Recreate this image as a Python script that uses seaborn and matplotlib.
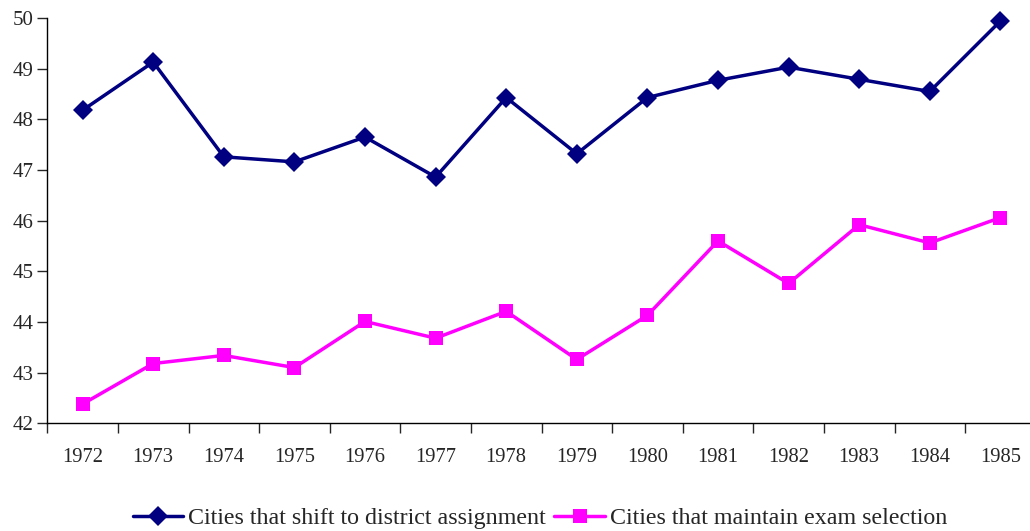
import pandas as pd
import matplotlib.pyplot as plt
import seaborn as sns
from matplotlib.ticker import FixedLocator

years = [str(y) for y in range(1972, 1986)]
district = [48.18, 49.13, 47.26, 47.16, 47.65, 46.86, 48.43,
            47.32, 48.43, 48.77, 49.03, 48.79, 48.55, 49.94]
exam = [42.38, 43.18, 43.34, 43.10, 44.01, 43.68, 44.21,
        43.26, 44.13, 45.60, 44.76, 45.92, 45.56, 46.06]
series_names = ["Cities that shift to district assignment",
                "Cities that maintain exam selection"]


def build_frame():
    df = pd.DataFrame({
        "Year": years * 2,
        "Value": district + exam,
        "Series": [series_names[0]] * len(years) + [series_names[1]] * len(years),
    })
    return df


def plot_chart(df):
    sns.set_style("white")
    plt.rcParams["font.family"] = ["Liberation Serif", "DejaVu Serif"]

    fig = plt.figure(figsize=(10.30, 5.31), dpi=100)
    ax = fig.add_axes([47.3 / 1030, 1 - 423.3 / 531, 988.4 / 1030, (423.3 - 18) / 531])

    sns.lineplot(data=df, x="Year", y="Value", hue="Series", style="Series",
                 palette=["#000080", "#FF00FF"], markers=["D", "s"], dashes=False,
                 linewidth=2.5, markersize=10, markeredgewidth=0, ax=ax)
    # keep the top diamond (1985) from being cut off
    for line in ax.get_lines():
        line.set_clip_on(False)

    ax.set_xlim(-0.5, len(years) - 0.5)
    ax.set_ylim(42, 50)
    ax.set_yticks(range(42, 51))
    ax.xaxis.set_major_locator(FixedLocator(range(len(years))))
    ax.set_xticklabels(years)
    ax.xaxis.set_minor_locator(FixedLocator([i - 0.5 for i in range(len(years) + 1)]))
    ax.tick_params(axis="x", which="major", length=0, pad=18, labelsize=14.8)
    ax.tick_params(axis="x", which="minor", length=7, width=1, direction="out", bottom=True)
    ax.tick_params(axis="y", length=7, width=1, direction="out", left=True, labelsize=15, pad=3)
    ax.set_xlabel("")
    ax.set_ylabel("")

    for side in ["top", "right"]:
        ax.spines[side].set_visible(False)
    for side in ["left", "bottom"]:
        ax.spines[side].set_color("black")
        ax.spines[side].set_linewidth(1)

    handles, labels = ax.get_legend_handles_labels()
    ax.legend(handles, labels, loc="center", bbox_to_anchor=(0.4985, -0.235),
              ncol=2, frameon=False, fontsize=17.3, handlelength=2.1,
              handletextpad=0.2, columnspacing=0.35)

    fig.savefig("out.png", dpi=100)


def main():
    df = build_frame()
    plot_chart(df)


if __name__ == "__main__":
    main()
